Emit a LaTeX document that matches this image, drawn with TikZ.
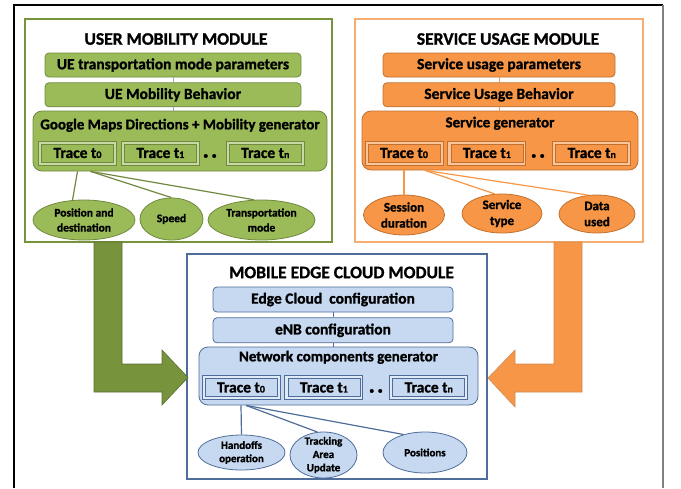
\documentclass[tikz,border=0pt]{standalone}
\usepackage{fontspec}
\setmainfont{Carlito}[BoldFeatures={FakeBold=1.2}]
\usetikzlibrary{positioning,shapes.geometric}
\definecolor{grnfill}{HTML}{9BBB59}
\definecolor{grnline}{HTML}{71893F}
\definecolor{grnframe}{HTML}{77933C}
\definecolor{orgfill}{HTML}{F79646}
\definecolor{orgline}{HTML}{C0712F}
\definecolor{orgframe}{HTML}{F6AD72}
\definecolor{bluefill}{HTML}{C6D9F1}
\definecolor{blueline}{HTML}{4F6D9A}
\newcommand{\fsz}[2]{\fontsize{#1}{#2}\selectfont}
\newcommand{\tsub}[1]{{\fsz{10}{10}#1}}

\begin{document}
\begin{tikzpicture}[x=1pt, y=-1pt, node distance=5pt, every node/.style={font=\bfseries, inner sep=0pt}]
\tikzset{module/.style={draw, line width=1.4pt},
  ttl/.style={font=\bfseries\fsz{17.5}{18}},
  box/.style={draw, rounded corners=4pt, line width=0.8pt, minimum height=24pt, font=\bfseries\fsz{15.5}{16}},
  gen/.style={draw, rounded corners=9pt, line width=0.8pt},
  genlbl/.style={font=\bfseries\fsz{15}{16}},
  trace/.style 2 args={draw=#1, fill=#2!55!white, line width=0.9pt, minimum width=78pt, minimum height=24pt, font=\bfseries\fsz{15.5}{16},
    path picture={\draw[draw=#1, fill=#2, line width=0.7pt] ([shift={(3pt,-3pt)}]path picture bounding box.north west) rectangle ([shift={(-3pt,3pt)}]path picture bounding box.south east);}},
  dots/.style={font=\bfseries\fsz{24}{24}},
  prop/.style={ellipse, draw, line width=0.8pt, align=center, inner sep=-3pt},
  link/.style={line width=1.2pt}}
\useasboundingbox (0,0) rectangle (681,488);
\draw[line width=1.5pt] (14,488) -- (14,5) -- (663,5);
\draw[line width=1.5pt, black!50] (663,5) -- (663,488);

% user mobility module
\node[module, draw=grnframe, minimum width=307pt, minimum height=223pt] (um) at (178.5,130.5) {};
\node[ttl] at (176,39) {USER MOBILITY MODULE};
\node[box, fill=grnfill, draw=grnline, minimum width=256pt] (uepar) at (173,65) {UE transportation mode parameters};
\node[box, fill=grnfill, draw=grnline, minimum width=256pt, below=of uepar] (uebeh) {UE Mobility Behavior};
\node[gen, fill=grnfill, draw=grnline, minimum width=294pt, minimum height=60pt] (uegen) at (180,141) {};
\node[genlbl, below=8pt of uegen.north] {Google Maps Directions + Mobility generator};
\node[trace={grnline}{grnfill}] (uet0) at (77.5,153) {Trace t\tsub{0}};
\node[trace={grnline}{grnfill}, right=4pt of uet0] (uet1) {Trace t\tsub{1}};
\node[trace={grnline}{grnfill}, right=26pt of uet1] (uetn) {Trace t\tsub{n}};
\node[dots] at (210,156) {.\kern2pt.};
\draw[blueline!60] (uepar) -- (uebeh);
\draw[blueline!60] (uebeh.south) -- (uebeh.south |- uegen.north);
\begin{scope}[every node/.append style={font=\bfseries\fsz{11.5}{15}}]
\node[prop, fill=grnfill, draw=grnline, minimum width=102pt, minimum height=40pt] (uepos) at (84,220) {Position and\\destination};
\node[prop, fill=grnfill, draw=grnline, minimum width=63pt, minimum height=42pt] (uespd) at (171.5,219) {Speed};
\node[prop, fill=grnfill, draw=grnline, minimum width=107pt, minimum height=40pt] (uetm) at (261.5,220) {Transportation\\mode};
\end{scope}
\draw[link, grnline] (uet0 |- uegen.south) -- (uepos.120);
\draw[link, grnline] ([xshift=13pt]uet0 |- uegen.south) -- (uespd.north);
\draw[link, grnline] ([xshift=13pt]uet0 |- uegen.south) -- (uetm.110);

% service usage module
\node[module, draw=orgframe, minimum width=288pt, minimum height=223pt] (su) at (499,130.5) {};
\node[ttl] at (508,39) {SERVICE USAGE MODULE};
\node[box, fill=orgfill, draw=orgline, minimum width=232pt] (uspar) at (499,65) {Service usage parameters};
\node[box, fill=orgfill, draw=orgline, minimum width=232pt, below=of uspar] (usbeh) {Service Usage Behavior};
\node[gen, fill=orgfill, draw=orgline, minimum width=276pt, minimum height=59pt] (usgen) at (500,140.5) {};
\node[genlbl, below=6pt of usgen.north] {Service generator};
\node[trace={orgline}{orgfill}] (ust0) at (404,153) {Trace t\tsub{0}};
\node[trace={orgline}{orgfill}, right=4pt of ust0] (ust1) {Trace t\tsub{1}};
\node[trace={orgline}{orgfill}, right=26pt of ust1] (ustn) {Trace t\tsub{n}};
\node[dots] at (538,156) {.\kern2pt.};
\draw[orgfill] (uspar) -- (usbeh);
\draw[orgfill] (usbeh.south) -- (usbeh.south |- usgen.north);
\begin{scope}[every node/.append style={font=\bfseries\fsz{13}{16}}]
\node[prop, fill=orgfill, draw=orgline, minimum width=81pt, minimum height=40pt] (ussd) at (404,215) {Session\\duration};
\node[prop, fill=orgfill, draw=orgline, minimum width=80pt, minimum height=39pt] (usst) at (502,213.5) {Service\\type};
\node[prop, fill=orgfill, draw=orgline, minimum width=76pt, minimum height=38pt] (usdu) at (597,214) {Data\\used};
\end{scope}
\draw[link, orgfill] (ust0 |- usgen.south) -- (ussd.north);
\draw[link, orgfill] ([xshift=21pt]ust0 |- usgen.south) -- (usst.110);
\draw[link, orgfill] ([xshift=21pt]ust0 |- usgen.south) -- (usdu.115);

% mobile edge cloud module
\node[module, draw=blueline, line width=1.2pt, minimum width=300pt, minimum height=225pt] (mec) at (337,366.5) {};
\node[ttl] at (341.5,272.5) {MOBILE EDGE CLOUD MODULE};
\node[box, fill=bluefill, draw=blueline, minimum width=240pt, minimum height=25pt] (mecedge) at (333,299.5) {Edge Cloud\ \ configuration};
\node[box, fill=bluefill, draw=blueline, minimum width=240pt, minimum height=25pt, below=of mecedge] (mecenb) {eNB configuration};
\node[gen, fill=bluefill, draw=blueline, minimum width=279pt, minimum height=58pt] (mecgen) at (338.5,376) {};
\node[genlbl, below=4pt of mecgen.north] {Network components generator};
\node[trace={blueline}{bluefill}] (mect0) at (241,387.5) {Trace t\tsub{0}};
\node[trace={blueline}{bluefill}, right=4pt of mect0] (mect1) {Trace t\tsub{1}};
\node[trace={blueline}{bluefill}, right=26pt of mect1] (mectn) {Trace t\tsub{n}};
\node[dots] at (376,391) {.\kern2pt.};
\draw[blueline] (mecedge) -- (mecenb);
\draw[blueline] (mecenb.south) -- (mecenb.south |- mecgen.north);
\begin{scope}[every node/.append style={font=\bfseries\fsz{11}{13.3}}]
\node[prop, fill=bluefill, draw=blueline, minimum width=87pt, minimum height=35pt] (mecho) at (241.5,452.5) {Handoffs\\operation};
\node[prop, fill=bluefill, draw=blueline, minimum width=67pt, minimum height=46pt] (mectau) at (323.5,455) {Tracking\\Area\\Update};
\node[prop, fill=bluefill, draw=blueline, minimum width=84pt, minimum height=41pt] (mecpos) at (425,452.5) {Positions};
\end{scope}
\draw[link, blueline] (mect0 |- mecgen.south) -- (mecho.north);
\draw[link, blueline] ([xshift=5pt]mect0 |- mecgen.south) -- (mectau.105);
\draw[link, blueline] ([xshift=5pt]mect0 |- mecgen.south) -- (mecpos.140);

% block arrows into the edge cloud module
\draw[fill=grnframe, draw=grnline!80!black, line width=0.6pt] (94,242) -- (122,242) -- (122,364) -- (162,364) -- (162,350) -- (188,377.5) -- (162,405) -- (162,392) -- (94,392) -- cycle;
\draw[fill=orgfill, draw=orgline!80, line width=0.6pt] (582,242) -- (554,242) -- (554,364) -- (515,364) -- (515,350) -- (488,378) -- (515,407) -- (515,392) -- (582,392) -- cycle;
\end{tikzpicture}
\end{document}
